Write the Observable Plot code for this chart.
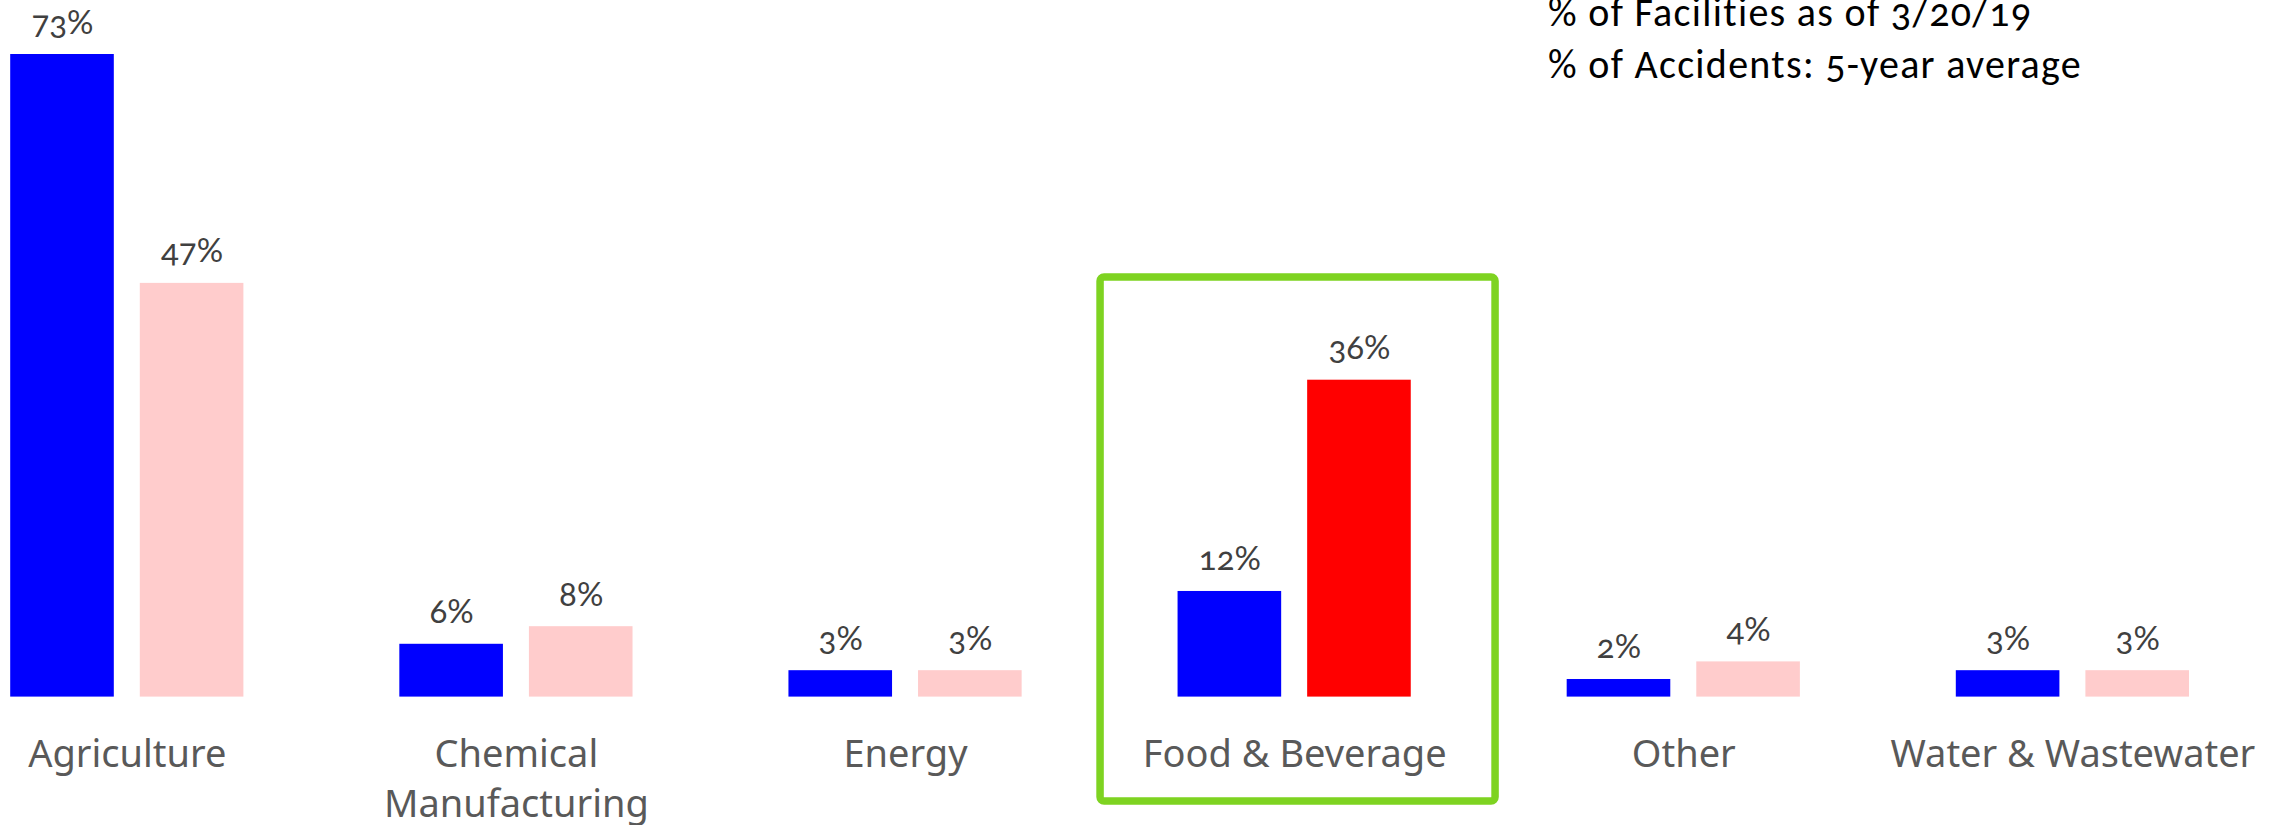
<!DOCTYPE html>
<html>
<head>
<meta charset="utf-8">
<script src="https://cdn.jsdelivr.net/npm/d3@7"></script>
<script src="https://cdn.jsdelivr.net/npm/@observablehq/plot@0.6"></script>
<style>
  html, body { margin: 0; padding: 0; background: #fff; overflow: hidden; }
  #wrap { position: relative; width: 2285px; height: 825px; }
  #chart svg text { font-feature-settings: "onum"; }
  #legend {
    position: absolute; left: 1548px; top: -13px;
    font-family: Carlito, Calibri, Lato, sans-serif;
    font-size: 40px; line-height: 51.7px; letter-spacing: 1.3px; color: #000;
    font-feature-settings: "onum";
    white-space: nowrap;
  }
</style>
</head>
<body>
<div id="wrap">
  <div id="chart"></div>
  <div id="legend"></div>
</div>
<script>
// Industry sectors and their share of facilities vs. share of accidents
const categories = ["Agriculture", "Chemical Manufacturing", "Energy", "Food & Beverage", "Other", "Water & Wastewater"];
const categoryLabels = ["Agriculture", "Chemical\nManufacturing", "Energy", "Food & Beverage", "Other", "Water & Wastewater"];
const facilitiesPct = [73, 6, 3, 12, 2, 3];
const accidentsPct = [47, 8, 3, 36, 4, 3];
const seriesNames = ["% of Facilities as of 3/20/19", "% of Accidents: 5-year average"];
const highlighted = "Food & Beverage";

// Long table: one row per sector × series
const rows = categories.flatMap((c, i) => [
  {category: c, series: "facilities", value: facilitiesPct[i], key: "Facilities"},
  {category: c, series: "accidents", value: accidentsPct[i], key: c === highlighted ? "Accidents (highlighted)" : "Accidents"}
]);

const labelOf = new Map(categories.map((c, i) => [c, categoryLabels[i]]));

const chart = Plot.plot({
  width: 2285,
  height: 825,
  marginTop: 54,
  marginBottom: 128.4,
  marginLeft: 10.2,
  marginRight: 96,
  style: {
    fontFamily: "'Segoe UI', 'Noto Sans', 'Open Sans', sans-serif",
    fontSize: "38px",
    color: "#595959",
    background: "#fff",
    overflow: "visible"
  },
  fx: {domain: categories, paddingInner: 0.4007, paddingOuter: 0, round: false, axis: null, label: null},
  x: {domain: ["facilities", "accidents"], paddingInner: 0.2005, paddingOuter: 0, round: false, axis: null},
  y: {domain: [0, 73], axis: null},
  color: {
    domain: ["Facilities", "Accidents", "Accidents (highlighted)"],
    range: ["#0000FF", "#FFCCCC", "#FF0000"]
  },
  marks: [
    Plot.barY(rows, {fx: "category", x: "series", y: "value", fill: "key"}),
    Plot.text(rows, {
      fx: "category", x: "series", y: "value",
      text: d => `${d.value}%`,
      lineAnchor: "bottom", dy: -21,
      fontSize: 33,
      fontFamily: "Lato, 'Noto Sans', sans-serif",
      fill: "#404040"
    }),
    // highlight frame around the food & beverage group
    Plot.rect([highlighted], {
      fx: d => d,
      insetLeft: -77.5, insetRight: -84.3,
      insetTop: 223, insetBottom: -104.4,
      fill: "none", stroke: "#7ED321", strokeWidth: 7.5, rx: 4
    }),
    Plot.axisFx({
      anchor: "bottom", tickSize: 0, tickPadding: 34, label: null,
      tickFormat: c => labelOf.get(c), lineHeight: 1.316, fill: "#595959"
    })
  ]
});

document.getElementById("chart").appendChild(chart);
document.getElementById("legend").innerHTML = seriesNames.map(s => `<div>${s}</div>`).join("");
</script>
</body>
</html>
